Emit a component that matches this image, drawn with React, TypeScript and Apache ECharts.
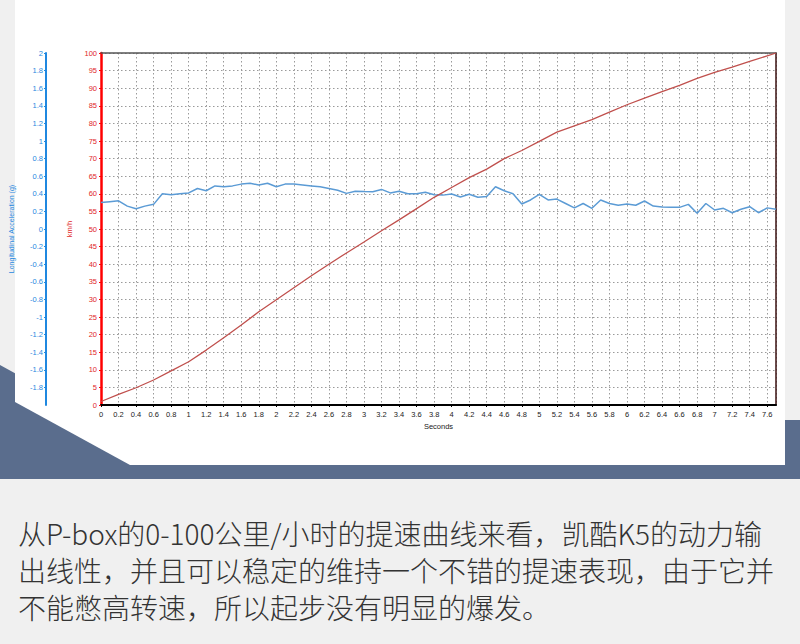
import React, { useEffect, useRef } from "react";
import * as echarts from "echarts";

const speedTimes = [0, 0.2, 0.4, 0.6, 0.8, 1.0, 1.2, 1.4, 1.6, 1.8, 2.0, 2.2, 2.4, 2.6, 2.8, 3.0, 3.2, 3.4, 3.6, 3.8, 4.0, 4.2, 4.4, 4.6, 4.8, 5.0, 5.2, 5.4, 5.6, 5.8, 6.0, 6.2, 6.4, 6.6, 6.8, 7.0, 7.2, 7.4, 7.6, 7.7];
const speedKmh = [1.0, 3.0, 4.9, 7.1, 9.7, 12.3, 15.6, 19.1, 22.7, 26.5, 29.9, 33.3, 36.7, 40.0, 43.2, 46.3, 49.5, 52.6, 55.8, 59.0, 61.8, 64.6, 67.0, 70.0, 72.3, 74.9, 77.5, 79.3, 81.1, 83.2, 85.3, 87.2, 89.0, 90.8, 92.8, 94.5, 96.0, 97.6, 99.2, 100];

const accelTimes = [0, 0.1, 0.2, 0.3, 0.4, 0.5, 0.6, 0.7, 0.8, 0.9, 1.0, 1.1, 1.2, 1.3, 1.4, 1.5, 1.6, 1.7, 1.8, 1.9, 2.0, 2.1, 2.2, 2.3, 2.4, 2.5, 2.6, 2.7, 2.8, 2.9, 3.0, 3.1, 3.2, 3.3, 3.4, 3.5, 3.6, 3.7, 3.8, 3.9, 4.0, 4.1, 4.2, 4.3, 4.4, 4.5, 4.6, 4.7, 4.8, 4.9, 5.0, 5.1, 5.2, 5.3, 5.4, 5.5, 5.6, 5.7, 5.8, 5.9, 6.0, 6.1, 6.2, 6.3, 6.4, 6.5, 6.6, 6.7, 6.8, 6.9, 7.0, 7.1, 7.2, 7.3, 7.4, 7.5, 7.6, 7.7];
const accelG = [0.30, 0.31, 0.32, 0.26, 0.23, 0.26, 0.28, 0.40, 0.39, 0.40, 0.41, 0.46, 0.435, 0.49, 0.48, 0.49, 0.51, 0.52, 0.50, 0.52, 0.48, 0.51, 0.51, 0.50, 0.49, 0.48, 0.46, 0.44, 0.405, 0.43, 0.425, 0.424, 0.45, 0.41, 0.43, 0.40, 0.40, 0.417, 0.39, 0.385, 0.398, 0.364, 0.394, 0.36, 0.37, 0.48, 0.435, 0.40, 0.284, 0.33, 0.394, 0.33, 0.34, 0.29, 0.24, 0.29, 0.235, 0.33, 0.29, 0.27, 0.285, 0.27, 0.318, 0.26, 0.25, 0.246, 0.246, 0.28, 0.178, 0.29, 0.216, 0.235, 0.185, 0.224, 0.253, 0.185, 0.24, 0.224];

const captionLines = [
  "从P-box的0-100公里/小时的提速曲线来看，凯酷K5的动力输",
  "出线性，并且可以稳定的维持一个不错的提速表现，由于它并",
  "不能憋高转速，所以起步没有明显的爆发。",
];

const axisFont = "Liberation Sans, Arial, sans-serif";

export default function App() {
  const ref = useRef<HTMLDivElement>(null);
  useEffect(() => {
    if (!ref.current) return;
    const chart = echarts.init(ref.current, null, { renderer: "svg" });
    const speedData = speedTimes.map((t, i) => [t, speedKmh[i]]);
    const accelData = accelTimes.map((t, i) => [t, accelG[i]]);
    const gridLine = { show: true, lineStyle: { color: "#9a9a9a", type: [1.5, 2.5] as any, width: 1 } };
    chart.setOption({
      animation: false,
      backgroundColor: "#f0f0f0",
      graphic: [
        {
          type: "polygon",
          z: -10,
          shape: { points: [[0, 365], [100, 420], [800, 420], [800, 479], [0, 479]] },
          style: { fill: "#5a6d8d" },
        },
        {
          type: "polygon",
          z: -9,
          shape: { points: [[15, 0], [785, 0], [785, 465], [130, 465], [15, 402]] },
          style: { fill: "#ffffff" },
        },
        ...captionLines.map((line, i) => ({
          type: "text",
          x: 18,
          y: 533 + i * 37,
          z: 5,
          style: {
            text: line,
            fontSize: 28,
            fontWeight: 300,
            fill: "#333333",
            fontFamily: "Noto Sans CJK SC",
            verticalAlign: "middle",
          },
        })),
      ],
      grid: { left: 100, right: 24, top: 53, bottom: 239 },
      xAxis: [
        {
          type: "value",
          min: 0,
          max: 7.7,
          interval: 0.2,
          name: "Seconds",
          nameLocation: "middle",
          nameGap: 13,
          nameTextStyle: { color: "#222", fontSize: 7.5, fontFamily: axisFont },
          axisLine: { show: true, onZero: false, lineStyle: { color: "#000", width: 2 } },
          axisTick: { show: true, length: 2, lineStyle: { color: "#000" } },
          axisLabel: { color: "#222", fontSize: 7.5, fontFamily: axisFont, margin: 5, showMaxLabel: false },
          splitLine: gridLine,
        },
        {
          type: "value",
          position: "top",
          min: 0,
          max: 7.7,
          axisLine: { show: true, onZero: false, lineStyle: { color: "#555", width: 1.5 } },
          axisTick: { show: false },
          axisLabel: { show: false },
          splitLine: { show: false },
        },
      ],
      yAxis: [
        {
          type: "value",
          min: 0,
          max: 100,
          interval: 5,
          position: "left",
          name: "km/h",
          nameLocation: "middle",
          nameGap: 18,
          nameTextStyle: { color: "#e02828", fontSize: 7.5, fontFamily: axisFont },
          axisLine: { show: true, onZero: false, lineStyle: { color: "#ff0000", width: 2.5 } },
          axisTick: { show: true, length: 2, lineStyle: { color: "#ff0000" } },
          axisLabel: { color: "#e02828", fontSize: 7.5, fontFamily: axisFont, margin: 4 },
          splitLine: gridLine,
        },
        {
          type: "value",
          min: -2,
          max: 2,
          interval: 0.2,
          position: "left",
          offset: 55,
          name: "Longitudinal Acceleration (g)",
          nameLocation: "middle",
          nameGap: 31,
          nameTextStyle: { color: "#1f88e0", fontSize: 7, fontFamily: axisFont },
          axisLine: { show: true, onZero: false, lineStyle: { color: "#1f88e0", width: 2 } },
          axisTick: { show: true, length: 2, lineStyle: { color: "#1f88e0" } },
          axisLabel: {
            color: "#1f88e0",
            fontSize: 7.5,
            fontFamily: axisFont,
            margin: 3,
            showMinLabel: false,
            formatter: (v: number) => String(Math.round(v * 10) / 10),
          },
          splitLine: { show: false },
        },
        {
          type: "value",
          min: 0,
          max: 100,
          position: "right",
          axisLine: { show: true, onZero: false, lineStyle: { color: "#3a1010", width: 1.5 } },
          axisTick: { show: false },
          axisLabel: { show: false },
          splitLine: { show: false },
        },
      ],
      series: [
        {
          type: "line",
          name: "Acceleration",
          xAxisIndex: 0,
          yAxisIndex: 1,
          data: accelData,
          showSymbol: false,
          lineStyle: { color: "#5b9bd5", width: 1.5 },
          z: 3,
        },
        {
          type: "line",
          name: "Speed",
          xAxisIndex: 0,
          yAxisIndex: 0,
          data: speedData,
          showSymbol: false,
          lineStyle: { color: "#c0504d", width: 1.3 },
          z: 4,
        },
      ],
    });
    return () => chart.dispose();
  }, []);
  return (
    <div
      ref={ref}
      style={{ position: "absolute", left: 0, top: 0, width: 800, height: 644 }}
    />
  );
}
